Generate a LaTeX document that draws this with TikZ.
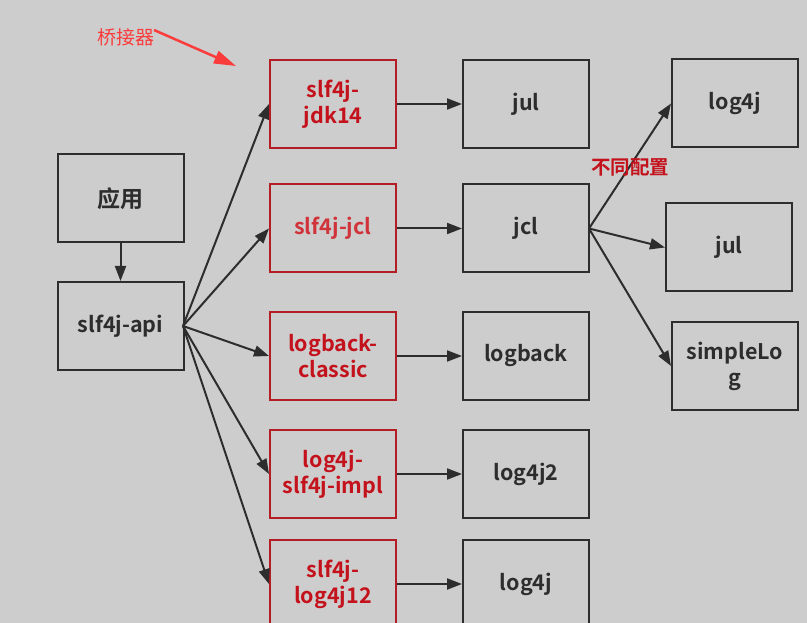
\documentclass[tikz,border=0pt]{standalone}
\usepackage{fontspec}
\setmainfont{Noto Sans CJK SC}[BoldFont={* Bold}]
\newfontfamily\cjkb{Noto Sans CJK SC Bold}
\newfontfamily\cjkr{Noto Sans CJK SC}
\usetikzlibrary{arrows.meta}
\definecolor{bg}{RGB}{205,205,205}
\definecolor{ink}{RGB}{45,45,45}
\definecolor{bred}{RGB}{178,30,36}
\definecolor{tred}{RGB}{196,18,28}
\definecolor{lred}{RGB}{208,52,58}
\definecolor{bridgered}{RGB}{250,60,60}
\tikzset{
  box/.style={draw=ink, line width=2pt, minimum width=126pt, minimum height=88pt,
    inner sep=0pt, align=center, text=ink, font=\cjkb\fontsize{21.5}{26}\selectfont},
  redbox/.style={box, draw=bred, text=tred},
  conn/.style={draw=ink, line width=2pt, -{Triangle[length=15pt,width=11pt]}},
}
\begin{document}
\begin{tikzpicture}[x=1pt,y=-1pt]
\fill[bg] (0,0) rectangle (807,623);
\useasboundingbox (0,0) rectangle (807,623);
% left
\node[box, font=\cjkb\fontsize{23}{26}\selectfont] (app) at (120.5,198.5) {应用};
\node[box] (api) at (120.5,326) {slf4j-api};
% bridges
\node[redbox] (jdk14) at (333,104) {slf4j-\\jdk14};
\node[redbox, text=lred] (sjcl) at (333,228.5) {slf4j-jcl};
\node[redbox] (lbc) at (333,356) {logback-\\classic};
\node[redbox] (l4jimpl) at (333,474) {log4j-\\slf4j-impl};
\node[redbox] (sl4j12) at (333,584) {slf4j-\\log4j12};
% implementations
\node[box] (jul) at (526,104) {jul};
\node[box] (jcl) at (526,228.5) {jcl};
\node[box] (logback) at (526,356) {logback};
\node[box] (log4j2) at (526,474) {log4j2};
\node[box] (log4ja) at (526,584) {log4j};
% right column
\node[box] (log4jb) at (735,103.5) {log4j};
\node[box] (julb) at (729,247.5) {jul};
\node[box] (simple) at (735,366) {simpleLo\\g};
% connectors
\draw[conn] (app) -- (api);
\coordinate (apiR) at (183,326);
\draw[conn] (apiR) -- (jdk14.west);
\draw[conn] (apiR) -- (sjcl.west);
\draw[conn] (apiR) -- (lbc.west);
\draw[conn] (apiR) -- (l4jimpl.west);
\draw[conn] (apiR) -- (sl4j12.west);
\draw[conn] (jdk14) -- (jul);
\draw[conn] (sjcl) -- (jcl);
\draw[conn] (lbc) -- (logback);
\draw[conn] (l4jimpl) -- (log4j2);
\draw[conn] (sl4j12) -- (log4ja);
\coordinate (jclR) at (589,228.5);
\draw[conn] (jclR) -- (log4jb.west);
\draw[conn] (jclR) -- (julb.west);
\draw[conn] (jclR) -- (simple.west);
% labels
\node[text=tred, font=\cjkb\fontsize{19.5}{22}\selectfont, inner sep=0pt] (cfg) at (630,167) {不同配置};
\node[text=bridgered, font=\cjkr\fontsize{19}{22}\selectfont, inner sep=0pt] (bridge) at (126,37) {桥接器};
\coordinate (bridgeTip) at (236,66);
\draw[bridgered, line width=2.5pt, -{Triangle[length=22pt,width=13pt]}] (154,30) -- (bridgeTip);
\end{tikzpicture}
\end{document}
